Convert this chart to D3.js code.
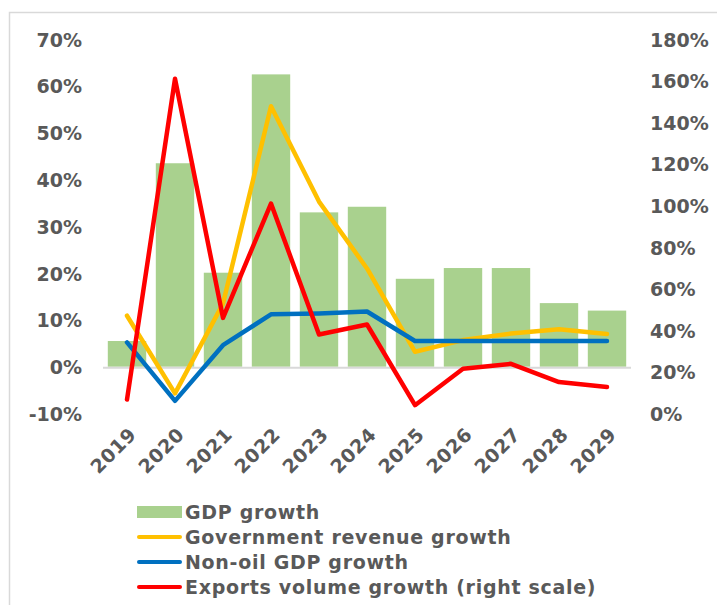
<!DOCTYPE html>
<html>
<head>
<meta charset="utf-8">
<script src="https://cdn.jsdelivr.net/npm/d3@7"></script>
<style>
  html, body { margin: 0; padding: 0; background: #fff; }
  svg { display: block; }
  text { font-family: "DejaVu Sans", Verdana, sans-serif; font-weight: bold; fill: #595959; }
</style>
</head>
<body>
<svg id="chart" width="717" height="605"></svg>
<script>
// Categories and series (percent)
const years = ["2019", "2020", "2021", "2022", "2023", "2024", "2025", "2026", "2027", "2028", "2029"];
const gdpGrowth = [5.5, 43.5, 20.1, 62.5, 33.0, 34.2, 18.8, 21.1, 21.1, 13.6, 12.0];
const revenueGrowth = [10.9, -5.7, 13.5, 55.7, 35.3, 21.0, 3.2, 5.7, 7.1, 8.0, 7.0];
const nonOilGrowth = [5.2, -7.3, 4.6, 11.2, 11.4, 11.8, 5.5, 5.5, 5.5, 5.5, 5.5];
const exportsGrowth = [6.7, 161, 46, 101, 38, 42.8, 4, 21.5, 23.9, 15.1, 12.7];

// Axis ticks
const leftTicks = [-10, 0, 10, 20, 30, 40, 50, 60, 70];
const rightTicks = [0, 20, 40, 60, 80, 100, 120, 140, 160, 180];

// Legend entries
const legendLabels = ["GDP growth", "Government revenue growth", "Non-oil GDP growth", "Exports volume growth (right scale)"];

const colors = { bar: "#a9d18e", revenue: "#ffc000", nonOil: "#0070c0", exports: "#ff0000" };

const svg = d3.select("#chart");

// Outer frame
svg.append("path")
  .attr("d", "M9.5,605 V12.5 H717")
  .attr("fill", "none")
  .attr("stroke", "#d9d9d9")
  .attr("stroke-width", 1.5);

const x = d3.scaleBand().domain(years).range([103, 631]).paddingInner(0.2).paddingOuter(0.1);
const yL = d3.scaleLinear().domain([-10, 70]).range([413.5, 39.3]);
const yR = d3.scaleLinear().domain([0, 180]).range([413.5, 39.3]);

// Left axis
const leftAxis = svg.append("g")
  .attr("transform", "translate(82,0)")
  .call(d3.axisLeft(yL).tickValues(leftTicks).tickSize(0).tickPadding(0).tickFormat(d => d + "%"));
leftAxis.select(".domain").remove();
leftAxis.selectAll("text").style("font-size", "19px").attr("dy", "0.36em");

// Right axis
const rightAxis = svg.append("g")
  .attr("transform", "translate(650,0)")
  .call(d3.axisRight(yR).tickValues(rightTicks).tickSize(0).tickPadding(0).tickFormat(d => d + "%"));
rightAxis.select(".domain").remove();
rightAxis.selectAll("text").style("font-size", "19px").attr("dy", "0.36em");

// Bars
svg.append("g").selectAll("rect")
  .data(years)
  .join("rect")
  .attr("x", d => x(d))
  .attr("width", x.bandwidth())
  .attr("y", (d, i) => Math.min(yL(gdpGrowth[i]), yL(0)))
  .attr("height", (d, i) => Math.abs(yL(0) - yL(gdpGrowth[i])))
  .attr("fill", colors.bar);

// Zero baseline
svg.append("line")
  .attr("x1", 103).attr("x2", 631)
  .attr("y1", yL(0) + 1).attr("y2", yL(0) + 1)
  .attr("stroke", "#d9d9d9")
  .attr("stroke-width", 2);

// X axis labels
const xAxis = svg.append("g")
  .attr("transform", `translate(0,${yL(-10) + 13})`)
  .call(d3.axisBottom(x).tickSize(0).tickPadding(0));
xAxis.select(".domain").remove();
xAxis.selectAll("text")
  .style("font-size", "19px")
  .style("letter-spacing", "0.5px")
  .attr("text-anchor", "end")
  .attr("dy", "0.7em")
  .attr("transform", "translate(1,0) rotate(-45)");

// Lines
const cx = d => x(d) + x.bandwidth() / 2;
function drawLine(values, scale, color) {
  const line = d3.line().x((d, i) => cx(years[i])).y(d => scale(d));
  svg.append("path")
    .datum(values)
    .attr("d", line)
    .attr("fill", "none")
    .attr("stroke", color)
    .attr("stroke-width", 4.5)
    .attr("stroke-linejoin", "round")
    .attr("stroke-linecap", "round");
}
drawLine(revenueGrowth, yL, colors.revenue);
drawLine(nonOilGrowth, yL, colors.nonOil);
drawLine(exportsGrowth, yR, colors.exports);

// Legend
const legend = svg.append("g");
const legendColors = [colors.bar, colors.revenue, colors.nonOil, colors.exports];
legendLabels.forEach((label, i) => {
  const cy = 512 + i * 25;
  if (i === 0) {
    legend.append("rect").attr("x", 137).attr("y", cy - 6).attr("width", 45).attr("height", 12).attr("fill", legendColors[i]);
  } else {
    legend.append("line").attr("x1", 139).attr("x2", 180).attr("y1", cy).attr("y2", cy)
      .attr("stroke", legendColors[i]).attr("stroke-width", 4).attr("stroke-linecap", "round");
  }
  legend.append("text").attr("x", 185).attr("y", cy).attr("dy", "0.36em")
    .style("font-size", "19px").style("letter-spacing", "0.7px").text(label);
});
</script>
</body>
</html>
